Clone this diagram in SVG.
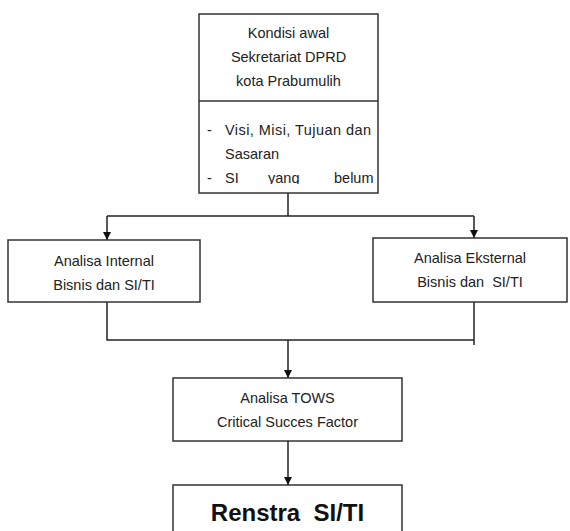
<svg xmlns="http://www.w3.org/2000/svg" width="570" height="531" viewBox="0 0 570 531">
<style>
.box{fill:#fff;stroke:#333;stroke-width:1.5}
.t{font-family:"Liberation Sans",Arial,sans-serif;font-size:14.5px;fill:#222;text-anchor:middle}
.l{font-family:"Liberation Sans",Arial,sans-serif;font-size:14.5px;fill:#222}
.b{font-family:"Liberation Sans",Arial,sans-serif;font-size:24px;font-weight:bold;fill:#111;text-anchor:middle}
.c{fill:none;stroke:#222;stroke-width:1.5}
</style>
<defs>
<marker id="ah" viewBox="0 0 10 10" refX="10" refY="5" markerWidth="8" markerHeight="8" markerUnits="userSpaceOnUse" orient="auto">
<path d="M0,0 L10,5 L0,10 z" fill="#111"/>
</marker>
<clipPath id="clipTop"><rect x="199" y="102" width="179" height="82"/></clipPath>
</defs>
<rect width="570" height="531" fill="#fff"/>
<g id="connectors">
<path class="c" d="M288,193 V216 M107,216 H474"/>
<path class="c" d="M107,216 V240" marker-end="url(#ah)"/>
<path class="c" d="M474,216 V238" marker-end="url(#ah)"/>
<path class="c" d="M107,302 V340 H474 M474,302 V345"/>
<path class="c" d="M288,340 V378" marker-end="url(#ah)"/>
<path class="c" d="M288,441 V485" marker-end="url(#ah)"/>
</g>
<g id="kondisi">
<rect class="box" x="199" y="14" width="179" height="179"/>
<line x1="199" y1="101" x2="378" y2="101" stroke="#333" stroke-width="1.5"/>
<text class="t" x="288.5" y="38">Kondisi awal</text>
<text class="t" x="288.5" y="62">Sekretariat DPRD</text>
<text class="t" x="288.5" y="86">kota Prabumulih</text>
<g clip-path="url(#clipTop)">
<text class="l" x="207" y="135">-</text>
<text class="l" x="225" y="135" textLength="146" lengthAdjust="spacing">Visi, Misi, Tujuan dan</text>
<text class="l" x="225" y="159">Sasaran</text>
<text class="l" x="207" y="183">-</text>
<text class="l" x="225" y="183">SI</text>
<text class="l" x="268" y="183">yang</text>
<text class="l" x="334" y="183">belum</text>
</g>
</g>
<g id="internal">
<rect class="box" x="8" y="240" width="192" height="62"/>
<text class="t" x="104" y="266">Analisa Internal</text>
<text class="t" x="104" y="290">Bisnis dan SI/TI</text>
</g>
<g id="eksternal">
<rect class="box" x="373" y="238" width="194" height="64"/>
<text class="t" x="470" y="263">Analisa Eksternal</text>
<text class="t" x="470" y="287" xml:space="preserve">Bisnis dan  SI/TI</text>
</g>
<g id="tows">
<rect class="box" x="173" y="378" width="229" height="63"/>
<text class="t" x="287.5" y="403">Analisa TOWS</text>
<text class="t" x="287.5" y="427">Critical Succes Factor</text>
</g>
<g id="renstra">
<rect class="box" x="173" y="485" width="229" height="50"/>
<text class="b" x="287.5" y="521" xml:space="preserve">Renstra  SI/TI</text>
</g>
</svg>
